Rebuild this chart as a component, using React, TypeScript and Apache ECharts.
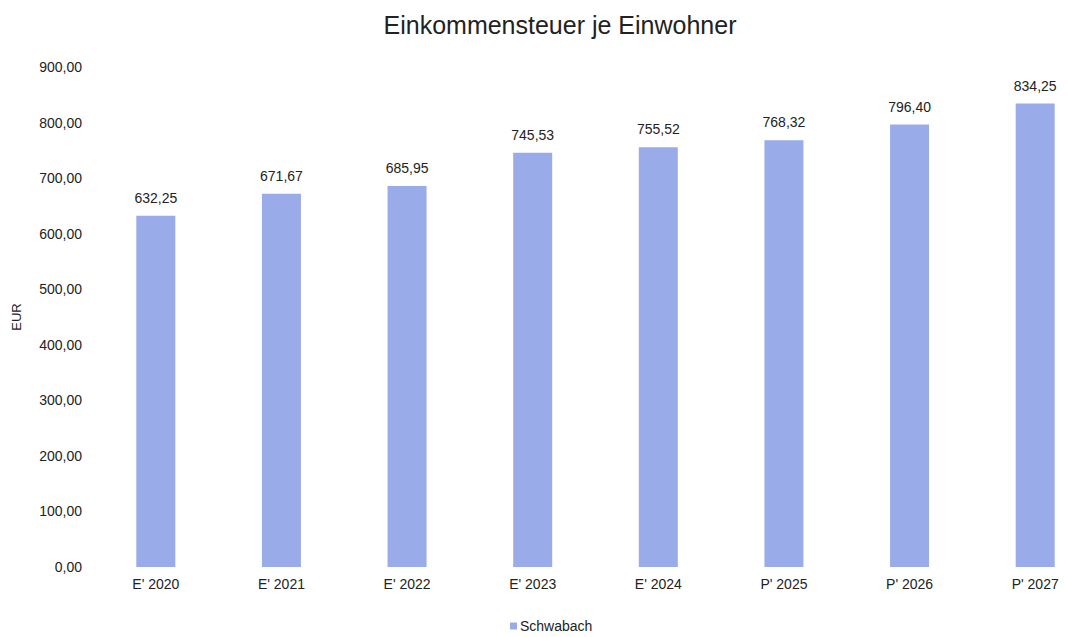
import React, { useEffect, useRef } from "react";
import * as echarts from "echarts";

const categories = ["E' 2020", "E' 2021", "E' 2022", "E' 2023", "E' 2024", "P' 2025", "P' 2026", "P' 2027"];
const values = [632.25, 671.67, 685.95, 745.53, 755.52, 768.32, 796.4, 834.25];
const seriesName = "Schwabach";
const titleText = "Einkommensteuer je Einwohner";

const fmt = (v: number) => v.toFixed(2).replace(".", ",");

export default function App() {
  const ref = useRef<HTMLDivElement>(null);
  useEffect(() => {
    if (!ref.current) return;
    const chart = echarts.init(ref.current, null, { renderer: "svg" });
    chart.setOption({
      animation: false,
      textStyle: { fontFamily: "Liberation Sans, Arial, sans-serif", color: "#222" },
      title: {
        text: titleText,
        left: 555,
        top: 7,
        textAlign: "center",
        textStyle: { fontSize: 25, fontWeight: "normal", color: "#222", fontFamily: "Liberation Sans, Arial, sans-serif" },
      },
      legend: {
        data: [seriesName],
        left: 510,
        top: 619,
        padding: 0,
        icon: "rect",
        itemWidth: 7,
        itemHeight: 7,
        itemGap: 4,
        textStyle: { fontSize: 14, color: "#222", padding: [0, 0, 0, -2] },
      },
      grid: { left: 93, top: 67, width: 1005, height: 500 },
      xAxis: {
        type: "category",
        data: categories,
        axisLine: { show: false },
        axisTick: { show: false },
        axisLabel: { fontSize: 14, color: "#222", margin: 10 },
      },
      yAxis: {
        type: "value",
        min: 0,
        max: 900,
        interval: 100,
        name: "EUR",
        nameLocation: "middle",
        nameGap: 70,
        nameTextStyle: { fontSize: 13, color: "#222" },
        splitLine: { show: false },
        axisLine: { show: false },
        axisTick: { show: false },
        axisLabel: { fontSize: 14, color: "#222", margin: 11, formatter: (v: number) => fmt(v) },
      },
      series: [
        {
          name: seriesName,
          type: "bar",
          data: values,
          barWidth: 39,
          itemStyle: { color: "#9aabea" },
          label: {
            show: true,
            position: "top",
            distance: 11,
            fontSize: 14,
            color: "#222",
            formatter: (p: any) => fmt(p.value),
          },
        },
      ],
    });
    return () => chart.dispose();
  }, []);
  return (
    <div style={{ width: 1068, height: 637, position: "absolute", left: 0, top: 0, overflow: "hidden" }}>
      <div ref={ref} style={{ width: 1110, height: 637 }} />
    </div>
  );
}
